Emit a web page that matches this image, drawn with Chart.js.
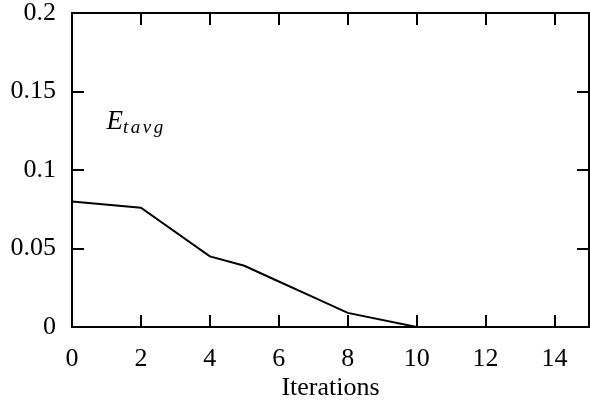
<!DOCTYPE html>
<html>
<head>
<meta charset="utf-8">
<script src="https://cdn.jsdelivr.net/npm/chart.js@4"></script>
<style>
  html, body { margin: 0; padding: 0; background: #fff; }
  canvas { display: block; }
</style>
</head>
<body>
<canvas id="chart" width="590" height="402"></canvas>
<script>
// values
const iterations = [0, 2, 4, 5, 6, 7, 8, 10]
const etavg = [0.08, 0.076, 0.045, 0.039, 0.029, 0.019, 0.009, 0]
const xTicks = [0, 2, 4, 6, 8, 10, 12, 14]
const yTicks = [0, 0.05, 0.1, 0.15, 0.2]
const seriesLabel = 'E_tavg'

const serif = '"Liberation Serif", "DejaVu Serif", serif'

// frame with inward ticks on all four sides, gnuplot style
const framePlugin = {
    id: 'frame',
    afterDraw(chart) {
        const { ctx, chartArea: a, scales } = chart
        const len = 12
        ctx.save()
        ctx.strokeStyle = '#000'
        ctx.lineWidth = 2
        ctx.strokeRect(a.left, a.top, a.right - a.left, a.bottom - a.top)
        ctx.beginPath()
        xTicks.forEach(v => {
            const px = Math.round(scales.x.getPixelForValue(v))
            ctx.moveTo(px, a.bottom); ctx.lineTo(px, a.bottom - len)
            ctx.moveTo(px, a.top); ctx.lineTo(px, a.top + len)
        })
        yTicks.forEach(v => {
            const py = Math.round(scales.y.getPixelForValue(v))
            ctx.moveTo(a.left, py); ctx.lineTo(a.left + len, py)
            ctx.moveTo(a.right, py); ctx.lineTo(a.right - len, py)
        })
        ctx.stroke()

        // series key, placed in data units
        const kx = scales.x.getPixelForValue(1.0)
        const ky = scales.y.getPixelForValue(0.126)
        ctx.fillStyle = '#000'
        ctx.textBaseline = 'alphabetic'
        ctx.font = 'italic 27px ' + serif
        ctx.fillText('E', kx, ky)
        const w = ctx.measureText('E').width
        ctx.font = 'italic 19px ' + serif
        let sx = kx + w
        'tavg'.split('').forEach(ch => {
            ctx.fillText(ch, sx, ky + 4)
            sx += ctx.measureText(ch).width + 2.5
        })
        ctx.restore()
    }
}

new Chart(document.getElementById('chart'), {
    type: 'line',
    data: {
        datasets: [{
            label: seriesLabel,
            data: iterations.map((x, i) => ({ x: x, y: etavg[i] })),
            borderColor: '#000',
            borderWidth: 2,
            pointRadius: 0,
            fill: false,
            tension: 0
        }]
    },
    options: {
        responsive: false,
        animation: false,
        devicePixelRatio: 1,
        layout: { padding: { top: 13, right: 1, left: 0, bottom: 0 } },
        plugins: { legend: { display: false }, tooltip: { enabled: false } },
        scales: {
            x: {
                type: 'linear',
                min: 0,
                max: 15,
                afterBuildTicks: s => { s.ticks = xTicks.map(v => ({ value: v })) },
                afterFit: s => { s.height = 75; s.paddingRight = 0 },
                grid: { display: false, drawTicks: false },
                border: { display: false },
                ticks: {
                    color: '#000',
                    padding: 17,
                    maxRotation: 0,
                    font: { family: serif, size: 26 },
                    callback: v => String(v)
                },
                title: {
                    display: true,
                    text: 'Iterations',
                    color: '#000',
                    padding: { top: -4, bottom: -2 },
                    font: { family: serif, size: 26 }
                }
            },
            y: {
                min: 0,
                max: 0.2,
                afterBuildTicks: s => { s.ticks = yTicks.map(v => ({ value: v })) },
                afterFit: s => { s.width = 72; s.paddingTop = 0; s.paddingBottom = 0 },
                grid: { display: false, drawTicks: false },
                border: { display: false },
                ticks: {
                    color: '#000',
                    padding: 16,
                    font: { family: serif, size: 26 },
                    callback: v => String(v)
                }
            }
        }
    },
    plugins: [framePlugin]
})
</script>
</body>
</html>
